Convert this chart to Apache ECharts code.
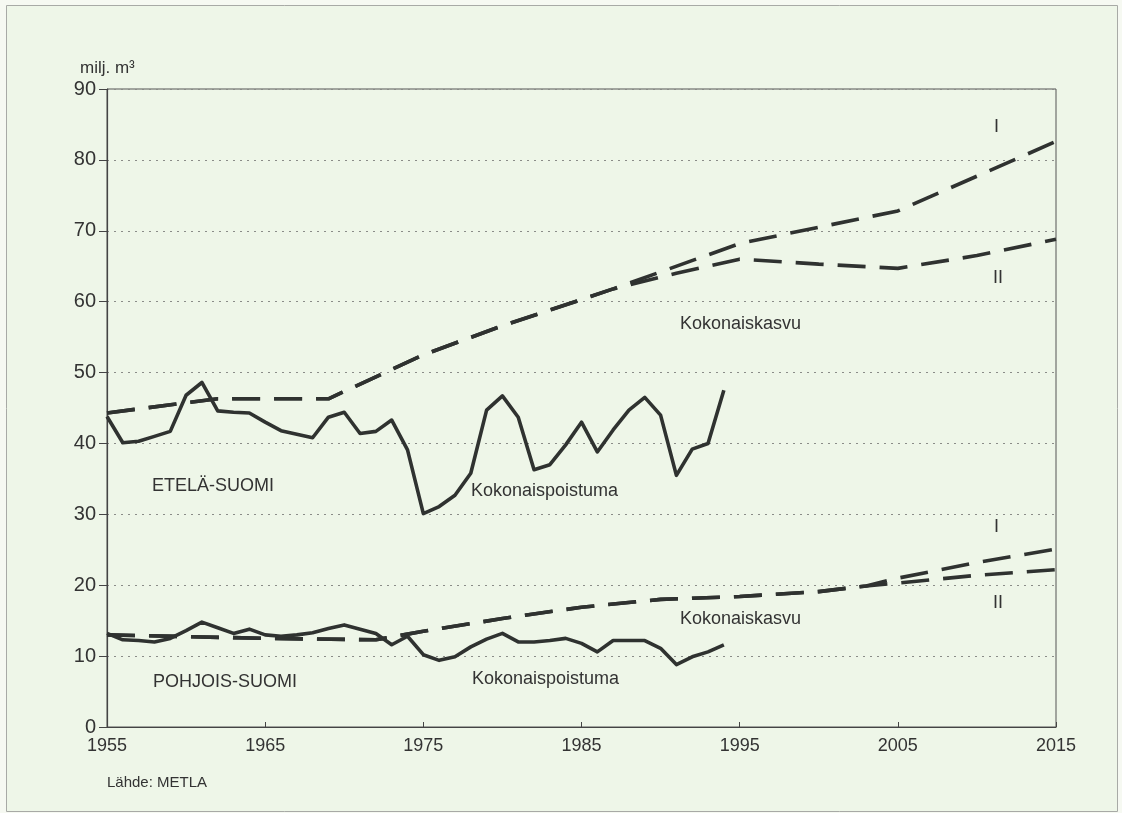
<!DOCTYPE html>
<html>
<head>
<meta charset="utf-8">
<script src="https://cdn.jsdelivr.net/npm/echarts@6/dist/echarts.min.js"></script>
<style>
html,body{margin:0;padding:0;background:#f6f9f2;}
#c{width:1122px;height:813px;}
</style>
</head>
<body>
<div id="c"></div>
<script>
// ---- data ----
var yTicks = [0, 10, 20, 30, 40, 50, 60, 70, 80, 90];
var xTicks = [1955, 1965, 1975, 1985, 1995, 2005, 2015];

var removalYears = [1955,1956,1957,1958,1959,1960,1961,1962,1963,1964,
                    1965,1966,1967,1968,1969,1970,1971,1972,1973,1974,
                    1975,1976,1977,1978,1979,1980,1981,1982,1983,1984,
                    1985,1986,1987,1988,1989,1990,1991,1992,1993,1994];
var southRemoval = [43.8,40.1,40.3,41.0,41.7,46.8,48.6,44.6,44.4,44.3,
                    43.0,41.8,41.3,40.8,43.7,44.4,41.4,41.7,43.3,39.1,
                    30.1,31.1,32.7,35.8,44.7,46.7,43.7,36.3,37.0,39.8,
                    43.0,38.8,41.9,44.7,46.5,44.0,35.5,39.2,40.0,47.5];
var northRemoval = [13.2,12.3,12.2,12.0,12.5,13.6,14.8,14.0,13.2,13.8,
                    13.0,12.8,13.0,13.3,13.9,14.4,13.8,13.2,11.6,12.8,
                    10.2,9.4,9.9,11.3,12.4,13.2,12.0,12.0,12.2,12.5,
                    11.8,10.6,12.2,12.2,12.2,11.1,8.8,9.9,10.6,11.6];

var southGrowthYearsI  = [1955,1962,1969,1975,1980,1985,1987,1995,2000,2005,2010,2015];
var southGrowthI       = [44.3,46.3,46.3,52.5,56.6,60.3,61.8,68.2,70.5,72.8,77.7,82.6];
var southGrowthYearsII = [1955,1962,1969,1975,1980,1985,1987,1991,1995,2000,2005,2010,2015];
var southGrowthII      = [44.3,46.3,46.3,52.5,56.6,60.3,61.8,64.0,66.0,65.3,64.7,66.5,68.8];

var northGrowthYearsI  = [1955,1965,1972,1975,1980,1985,1990,1995,2000,2003,2005,2010,2015];
var northGrowthI       = [13.0,12.5,12.3,13.5,15.3,16.9,18.0,18.4,19.1,19.9,21.0,23.2,25.1];
var northGrowthYearsII = [1955,1965,1972,1975,1980,1985,1990,1995,2000,2003,2005,2010,2015];
var northGrowthII      = [13.0,12.5,12.3,13.5,15.3,16.9,18.0,18.4,19.1,19.9,20.3,21.4,22.2];

function pairs(xs, ys){ return xs.map(function(x,i){ return [x, ys[i]]; }); }

var FONT = '"Liberation Sans", Arial, Helvetica, sans-serif';
var TXT = '#333';
var LINE = '#2f3230';
var solid = {color: LINE, width: 3.6, type: 'solid', join: 'round'};
var dashed = {color: LINE, width: 3.6, type: [28, 14], cap: 'butt'};

function lineSeries(data, style){
  return {type:'line', data:data, showSymbol:false, symbol:'none', lineStyle:style,
          silent:true, animation:false, z:3};
}

function label(text, left, top, size){
  return {type:'text', left:left, top:top, z:10,
          style:{text:text, fill:TXT, font:(size||18)+'px ' + FONT}};
}

var chart = echarts.init(document.getElementById('c'), null, {renderer:'canvas'});
chart.setOption({
  animation:false,
  backgroundColor:'transparent',
  textStyle:{fontFamily:FONT},
  graphic:[
    {type:'rect', z:-10, shape:{x:6.5, y:5.5, width:1111, height:806},
     style:{fill:'#eef6e8', stroke:'#a8aaa6', lineWidth:1}},
    label('milj. m³', 80, 60, 17),
    label('ETELÄ-SUOMI', 152, 477),
    label('Kokonaispoistuma', 471, 482),
    label('Kokonaiskasvu', 680, 315),
    label('I', 994, 118),
    label('II', 993, 269),
    label('I', 994, 518),
    label('II', 993, 594),
    label('Kokonaiskasvu', 680, 610),
    label('Kokonaispoistuma', 472, 670),
    label('POHJOIS-SUOMI', 153, 673),
    label('Lähde: METLA', 107, 775, 15)
  ],
  grid:{left:107, right:66, top:89, bottom:86, show:true, borderColor:'#555', borderWidth:1,
        backgroundColor:'transparent'},
  xAxis:{
    type:'value', min:1955, max:2015, interval:10,
    axisLine:{show:true, lineStyle:{color:'#444', width:1.2}},
    axisTick:{show:true, inside:true, length:5, lineStyle:{color:'#444'}},
    axisLabel:{color:TXT, fontSize:18, fontFamily:FONT, margin:10,
               formatter:function(v){ return xTicks.indexOf(v) >= 0 ? String(v) : ''; }},
    splitLine:{show:false}
  },
  yAxis:{
    type:'value', min:0, max:90, interval:10,
    axisLine:{show:true, lineStyle:{color:'#444', width:1.2}},
    axisTick:{show:true, inside:false, length:8, lineStyle:{color:'#444'}},
    axisLabel:{color:TXT, fontSize:20, fontFamily:FONT, margin:11,
               formatter:function(v){ return yTicks.indexOf(v) >= 0 ? String(v) : ''; }},
    splitLine:{show:true, lineStyle:{color:'#8a8c88', width:1, type:[2,5]}}
  },
  series:[
    lineSeries(pairs(southGrowthYearsII, southGrowthII), dashed),
    lineSeries(pairs(southGrowthYearsI, southGrowthI), dashed),
    lineSeries(pairs(northGrowthYearsII, northGrowthII), dashed),
    lineSeries(pairs(northGrowthYearsI, northGrowthI), dashed),
    lineSeries(pairs(removalYears, southRemoval), solid),
    lineSeries(pairs(removalYears, northRemoval), solid)
  ]
});
</script>
</body>
</html>
